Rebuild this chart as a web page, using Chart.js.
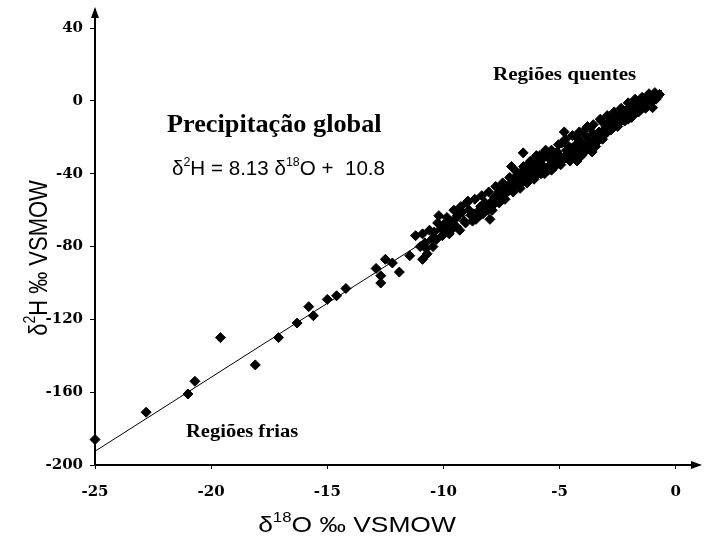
<!DOCTYPE html>
<html>
<head>
<meta charset="utf-8">
<script src="https://cdn.jsdelivr.net/npm/chart.js@4.4.1/dist/chart.umd.min.js"></script>
<style>
    html, body { margin: 0; padding: 0; background: #fff; }
</style>
</head>
<body>
<canvas id="chart1" width="707" height="542"></canvas>
<script>
/* ---------------------------------------------------------------------------------------- */
/* DATA                                                                                     */
/* ---------------------------------------------------------------------------------------- */

    // d18O (x) and d2H (y)
    var o18 = [
        -25.0, -22.8, -21.0, -20.7, -19.6, -18.1, -17.1, -16.3, -15.8, -15.6, -15.0, -14.6, -14.2,
        -12.9, -12.7, -12.7, -12.5, -12.2, -11.9, -11.45, -11.2, -11.0, -10.9, -10.7, -10.6, -10.5,
        -10.3, -10.2, -10.0, -9.9, -9.7, -9.5, -9.3, -9.2, -9.0, -8.9, -8.7, -8.6, -8.4, -8.2, -8.15,
        -8.0, -7.9, -7.8, -7.7, -7.6, -7.5, -7.4, -7.3, -7.2, -7.1, -7.0, -7.07, -6.9, -6.8, -6.7,
        -6.6, -6.57, -6.5, -6.4, -6.3, -6.2, -6.1, -6.0, -6.0, -5.9, -5.8, -5.7, -5.6, -5.5, -5.4,
        -5.3, -5.2, -5.1, -5.0, -4.9, -4.85, -4.8, -4.7, -4.6, -4.5, -4.4, -4.3, -4.2, -4.1, -4.0,
        -3.9, -3.8, -3.7, -3.6, -3.5, -3.4, -3.3, -3.2, -3.1, -3.0, -2.9, -2.8, -2.7, -2.6, -2.5,
        -2.4, -2.3, -2.2, -2.1, -2.0, -1.9, -1.8, -1.7, -1.6, -1.55, -1.4, -1.3, -1.1, -1.0, -0.9, -0.7,
        -10.8, -10.4, -10.1, -9.8, -9.6, -9.4, -9.1, -8.8, -8.5, -8.3, -8.1, -7.95, -7.85, -7.65,
        -7.55, -7.45, -7.35, -7.25, -7.15, -7.05, -6.95, -6.85, -6.75, -6.65, -6.55, -6.45, -6.35,
        -6.25, -6.15, -6.05, -5.95, -5.85, -5.75, -5.65, -5.45, -5.35, -5.25, -5.15, -5.05, -4.95,
        -4.75, -4.65, -4.55, -4.45, -4.35, -4.25, -4.15, -4.05, -3.95, -3.85, -3.75, -3.65, -3.55,
        -3.45, -3.35, -3.25, -3.15, -3.05, -2.95, -2.85, -2.75, -2.65, -2.55, -2.45, -2.35, -2.25,
        -2.15, -2.05, -1.95, -1.85, -1.75, -1.65, -1.45, -1.35, -1.25, -1.2, -0.85, -0.8,
        -10.9, -10.75, -10.45, -10.25, -10.05, -9.85, -9.75, -9.55, -9.45, -9.25, -9.05, -8.95,
        -8.75, -8.65, -8.45, -8.35, -8.25, -8.05, -7.9, -7.75, -7.6, -7.45, -7.35, -7.15, -7.0,
        -6.85, -6.7, -6.55, -6.4, -6.25, -6.1, -5.95, -5.8, -5.65, -5.5, -5.35, -5.2, -5.05, -4.9,
        -4.75, -4.6, -4.45, -4.3, -4.15, -4.0, -3.85, -3.7, -3.55, -3.4, -3.25, -3.1, -2.95, -2.8,
        -2.65, -2.5, -2.35, -2.2, -2.05, -1.9, -1.75, -1.6, -1.45, -1.3, -1.15, -1.0
    ];
    var h2 = [
        -186, -171, -161, -154, -130, -145, -130, -122, -113, -118, -109, -107, -103,
        -92, -100, -96, -87, -89, -94, -85, -74, -80, -87, -84, -71, -76,
        -76, -63, -68, -71, -66, -65, -71, -61, -56, -60, -62, -65, -58, -56, -58,
        -65, -55, -53, -52, -50, -50, -48, -49, -47, -45, -43, -36, -42, -45, -40,
        -39, -28.5, -37, -41, -34, -36, -38, -41, -30, -33, -36, -36, -27, -31, -35,
        -34, -30, -28, -33, -23, -32, -17, -27, -25, -29, -30, -24, -21, -23, -26,
        -19, -14, -15, -28, -22, -19, -17, -11, -16, -14, -12, -11, -13, -9, -12,
        -10, -7, -9, -5, -7, -6, -4, -5.5, -2, 0, -1, -3, 0, -3.7, 4.6, 3.6,
        -78, -72, -70, -67, -70, -63, -66, -63, -61, -62, -60, -58, -57, -55,
        -54, -52, -51, -50, -49, -47, -46, -44, -46, -43, -44, -38, -42,
        -40, -33, -35, -39, -30, -32, -40, -29, -38, -36, -33, -30, -35,
        -31, -29, -33, -26, -28, -33, -27, -30, -24, -27, -21, -23, -18,
        -25, -22, -20, -21, -18, -17, -15, -10, -14, -13, -8, -11, -10,
        -8, -10, -3, -8, -2, -6, -4, 0, -2, 2, 1, 2,
        -73, -81, -80, -67, -74, -64, -73, -60, -69, -58, -67, -55,
        -66, -54, -63, -52, -59, -50, -60, -47, -56, -45, -54, -42, -50,
        -39, -48, -36, -45, -33, -43, -31, -40, -29, -38, -27, -36, -24, -33,
        -21, -31, -19, -28, -17, -25, -15, -24, -13, -21, -10, -19, -8, -16,
        -6, -14, -4, -11, -1, -9, 1, -6, 2, -4, 4, 0
    ];

    // regression line d2H = 8.13 d18O + 10.8, drawn between its two ends
    var lineX = [-25, -0.6];
    var lineY = [-192.45, 5.92];

    var xTicks = [-25, -20, -15, -10, -5, 0];
    var yTicks = [-200, -160, -120, -80, -40, 0, 40];

    var chart1 = null;

/* ---------------------------------------------------------------------------------------- */
/* TEXT + ARROWS                                                                            */
/* ---------------------------------------------------------------------------------------- */

    // draws pieces of text one after the other, sup pieces small and raised
    function drawRich(ctx, parts, x, y, size, family, align, sx){
        var small = Math.round(size * 0.62);
        var w = 0;
        parts.forEach(function(p){
            ctx.font = (p.sup ? small : size) + 'px ' + family;
            w += ctx.measureText(p.t).width;
        });
        ctx.save();
        ctx.translate(x, y);
        ctx.scale(sx || 1, 1);
        var cx = align == 'center' ? -w / 2 : 0;
        ctx.textAlign = 'left';
        ctx.textBaseline = 'alphabetic';
        parts.forEach(function(p){
            ctx.font = (p.sup ? small : size) + 'px ' + family;
            ctx.fillText(p.t, cx, p.sup ? -size * 0.45 : 0);
            cx += ctx.measureText(p.t).width;
        });
        ctx.restore();
    }

    function drawStretched(ctx, text, x, y, font, sx){
        ctx.save();
        ctx.translate(x, y);
        ctx.scale(sx, 1);
        ctx.font = font;
        ctx.textAlign = 'left';
        ctx.fillText(text, 0, 0);
        ctx.restore();
    }

    var overlay = {
        id: 'overlay',
        afterDraw: function(chart){
            var ctx = chart.ctx;
            var a = chart.chartArea;
            ctx.save();
            ctx.fillStyle = '#000';

            // axis arrows
            ctx.beginPath();
            ctx.moveTo(a.left, a.top - 3);
            ctx.lineTo(a.left - 4, a.top + 8);
            ctx.lineTo(a.left + 4, a.top + 8);
            ctx.closePath();
            ctx.fill();
            ctx.beginPath();
            ctx.moveTo(a.right + 3, a.bottom);
            ctx.lineTo(a.right - 8, a.bottom - 4);
            ctx.lineTo(a.right - 8, a.bottom + 4);
            ctx.closePath();
            ctx.fill();

            // labels inside the plot
            drawStretched(ctx, 'Precipitação global', 167, 132, 'bold 25px "Liberation Serif"', 1.05);
            drawStretched(ctx, 'Regiões quentes', 493, 80, 'bold 18px "Liberation Serif"', 1.17);
            drawStretched(ctx, 'Regiões frias', 186, 437, 'bold 18px "Liberation Serif"', 1.14);

            drawRich(ctx, [
                {t: 'δ'}, {t: '2', sup: true}, {t: 'H = 8.13 δ'}, {t: '18', sup: true}, {t: 'O +  10.8'}
            ], 172, 175, 20, '"Liberation Sans"', 'left', 1.03);

            // axis titles
            drawRich(ctx, [
                {t: 'δ'}, {t: '18', sup: true}, {t: 'O ‰ VSMOW'}
            ], 357, 532, 22, '"Liberation Sans"', 'center', 1.2);

            ctx.translate(47, 258);
            ctx.rotate(-Math.PI / 2);
            ctx.scale(1, 1.2);
            drawRich(ctx, [
                {t: 'δ'}, {t: '2', sup: true}, {t: 'H ‰ VSMOW'}
            ], 0, 0, 22, '"Liberation Sans"', 'center', 1);

            ctx.restore();
        }
    };

/* ---------------------------------------------------------------------------------------- */
/* CHART                                                                                    */
/* ---------------------------------------------------------------------------------------- */

    var points = [];
    for(let i = 0; i < o18.length; i++){
        points.push( {x: o18[i], y: h2[i]} );
    }
    var linePts = [];
    for(let i = 0; i < lineX.length; i++){
        linePts.push( {x: lineX[i], y: lineY[i]} );
    }

    var tickFont = { family: '"DejaVu Serif"', size: 15, weight: 'bold' };

    var ctx = document.getElementById('chart1').getContext('2d');
    chart1 = new Chart(ctx, {
        type: 'scatter',
        data: {
            datasets: [{
                label: 'linha',
                data: linePts,
                showLine: true,
                borderColor: '#000',
                borderWidth: 1,
                pointRadius: 0,
                order: 2
            },{
                label: 'precipitação',
                data: points,
                pointStyle: 'rectRot',
                pointRadius: 5,
                backgroundColor: '#000',
                borderColor: '#000',
                borderWidth: 1,
                clip: false,
                order: 1
            }]
        },
        options: {
            responsive: false,
            animation: false,
            layout: { padding: { top: 10, right: 8, left: 0, bottom: 0 } },
            plugins: {
                legend: { display: false },
                tooltip: { enabled: false }
            },
            scales: {
                x: {
                    type: 'linear',
                    min: -25,
                    max: 1,
                    afterBuildTicks: function(s){ s.ticks = xTicks.map(function(v){ return {value: v}; }); },
                    afterFit: function(s){ s.height = 77; s.paddingLeft = 0; s.paddingRight = 0; },
                    border: { display: true, color: '#000', width: 2 },
                    grid: { drawOnChartArea: false, drawTicks: true, tickLength: 4, color: '#000' },
                    ticks: { color: '#000', font: tickFont, padding: 14, maxRotation: 0 }
                },
                y: {
                    type: 'linear',
                    min: -200,
                    max: 50,
                    afterBuildTicks: function(s){ s.ticks = yTicks.map(function(v){ return {value: v}; }); },
                    afterFit: function(s){ s.width = 95; s.paddingTop = 0; s.paddingBottom = 0; },
                    border: { display: true, color: '#000', width: 2 },
                    grid: { drawOnChartArea: false, drawTicks: true, tickLength: 5, color: '#000' },
                    ticks: { color: '#000', font: tickFont, padding: 7 }
                }
            }
        },
        plugins: [overlay]
    });
</script>
</body>
</html>
